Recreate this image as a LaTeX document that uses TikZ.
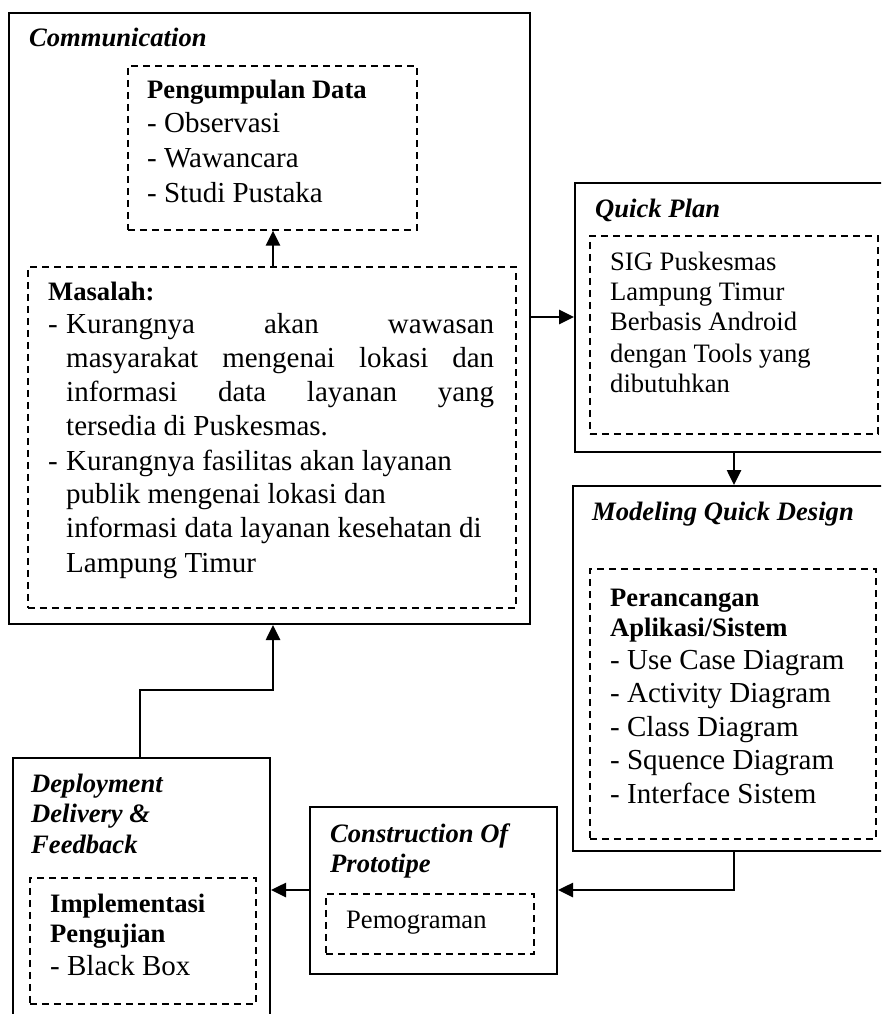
\documentclass[tikz,border=0pt]{standalone}
\usepackage{fontspec}
\setmainfont{Liberation Serif}
\usetikzlibrary{arrows.meta}
\newcommand{\regtext}{\fontsize{29}{34}\selectfont}
\newcommand{\smalltext}{\fontsize{26.6}{30.6}\selectfont}
\tikzset{
  solidbox/.style={draw, line width=2pt, inner sep=0pt, anchor=north west},
  dashbox/.style={draw, line width=1.6pt, dash pattern=on 7pt off 5pt, inner sep=0pt, anchor=north west},
  arr/.style={line width=2.6pt, -{Triangle[length=15pt,width=14pt]}},
  ttl/.style={anchor=base west, inner sep=0pt, font=\smalltext\bfseries\itshape},
  bld/.style={anchor=base west, inner sep=0pt, font=\smalltext\bfseries},
  reg/.style={anchor=base west, inner sep=0pt, font=\regtext},
  sml/.style={anchor=base west, inner sep=0pt, font=\smalltext},
}
\begin{document}
\begin{tikzpicture}[x=1pt,y=1pt]
\useasboundingbox (0,0) rectangle (881,-1014);
\clip (0,0) rectangle (881,-1014);
% boxes
\node[solidbox, minimum width=521pt, minimum height=611pt] (comm) at (8,-12) {};
\node[dashbox, minimum width=289pt, minimum height=164pt] (pengdash) at (127,-65) {};
\node[dashbox, minimum width=488pt, minimum height=341pt] (masdash) at (27,-266) {};
\node[solidbox, minimum width=340pt, minimum height=269pt] (qp) at (574,-182) {};
\node[dashbox, minimum width=288pt, minimum height=198pt] (qpdash) at (589,-235) {};
\node[solidbox, minimum width=340pt, minimum height=365pt] (mod) at (572,-485) {};
\node[dashbox, minimum width=286pt, minimum height=270pt] (moddash) at (589,-568) {};
\node[solidbox, minimum width=257pt, minimum height=300pt] (dep) at (12,-757) {};
\node[dashbox, minimum width=226pt, minimum height=126pt] (depdash) at (29,-877) {};
\node[solidbox, minimum width=247pt, minimum height=167pt] (cons) at (309,-806) {};
\node[dashbox, minimum width=208pt, minimum height=60pt] (consdash) at (325,-893) {};
% helper coordinates
\coordinate (ax) at (273,0);
\coordinate (cy) at (0,-317);
\coordinate (qm) at (734,0);
\coordinate (ry) at (0,-890);
\coordinate (dx) at (140,0);
\coordinate (ex) at (273,-690);
% connectors
\draw[arr] (masdash.north -| ax) -- (pengdash.south -| ax);
\draw[arr] (comm.east |- cy) -- (qp.west |- cy);
\draw[arr] (qp.south -| qm) -- (mod.north -| qm);
\draw[arr] (mod.south -| qm) |- (cons.east |- ry);
\draw[arr] (cons.west |- ry) -- (dep.east |- ry);
\draw[arr] (dep.north -| dx) |- (ex) -- (comm.south -| ex);
% Communication
\node[ttl] (tcomm) at (29,-47) {Communication};
\node[bld] (tpd) at (147,-99) {Pengumpulan Data};
\node[reg] (tpd1) at (147,-132) {- Observasi};
\node[reg] (tpd2) at (147,-167) {- Wawancara};
\node[reg] (tpd3) at (147,-202) {- Studi Pustaka};
\node[bld] (tmas) at (48,-300) {Masalah:};
\node[reg] (tb1) at (48,-333) {-};
\node[reg] (tm1) at (66,-333) {\hbox to 428pt{Kurangnya\hfill akan\hfill wawasan}};
\node[reg] (tm2) at (66,-367) {\hbox to 428pt{masyarakat\hfill mengenai\hfill lokasi\hfill dan}};
\node[reg] (tm3) at (66,-401) {\hbox to 428pt{informasi\hfill data\hfill layanan\hfill yang}};
\node[reg] (tm4) at (66,-435) {tersedia di Puskesmas.};
\node[reg] (tb2) at (48,-470) {-};
\node[reg] (tm5) at (66,-470) {Kurangnya fasilitas akan layanan};
\node[reg] (tm6) at (66,-503) {publik mengenai lokasi dan};
\node[reg] (tm7) at (66,-537) {informasi data layanan kesehatan di};
\node[reg] (tm8) at (66,-572) {Lampung Timur};
% Quick Plan
\node[ttl] (tqp) at (595,-217) {Quick Plan};
\node[sml] (tq1) at (610,-270) {SIG Puskesmas};
\node[sml] (tq2) at (610,-300) {Lampung Timur};
\node[sml] (tq3) at (610,-330) {Berbasis Android};
\node[sml] (tq4) at (610,-362) {dengan Tools yang};
\node[sml] (tq5) at (610,-392) {dibutuhkan};
% Modeling
\node[ttl] (tmod) at (592,-520) {Modeling Quick Design};
\node[bld] (tpr1) at (610,-606) {Perancangan};
\node[bld] (tpr2) at (610,-636) {Aplikasi/Sistem};
\node[reg] (tpr3) at (610,-669) {- Use Case Diagram};
\node[reg] (tpr4) at (610,-702) {- Activity Diagram};
\node[reg] (tpr5) at (610,-736) {- Class Diagram};
\node[reg] (tpr6) at (610,-769) {- Squence Diagram};
\node[reg] (tpr7) at (610,-803) {- Interface Sistem};
% Deployment
\node[ttl] (tdep1) at (31,-792) {Deployment};
\node[ttl] (tdep2) at (31,-822) {Delivery \&};
\node[ttl] (tdep3) at (31,-853) {Feedback};
\node[bld] (timp1) at (50,-912) {Implementasi};
\node[bld] (timp2) at (50,-942) {Pengujian};
\node[reg] (timp3) at (50,-975) {- Black Box};
% Construction
\node[ttl] (tcon1) at (330,-842) {Construction Of};
\node[ttl] (tcon2) at (330,-872) {Prototipe};
\node[sml] (tcon3) at (346,-928) {Pemograman};
\end{tikzpicture}
\end{document}
